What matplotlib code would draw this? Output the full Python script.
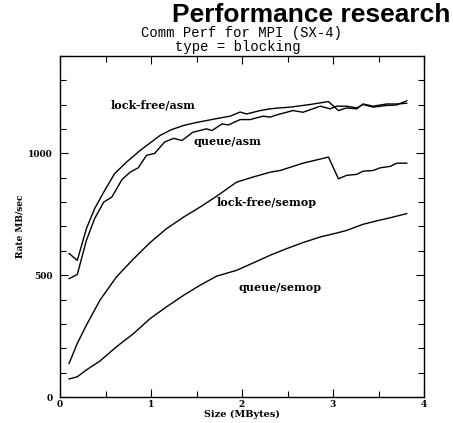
import matplotlib.pyplot as plt
from matplotlib.ticker import MultipleLocator

# message size (MBytes) and rate (MB/sec) for each variant
lock_asm_x = [0.10, 0.19, 0.29, 0.38, 0.48, 0.60, 0.73, 0.88, 0.99, 1.10, 1.22, 1.36,
              1.50, 1.61, 1.75, 1.87, 1.98, 2.05, 2.20, 2.31, 2.38, 2.53, 2.75, 2.95,
              3.06, 3.15, 3.26, 3.33, 3.44, 3.59, 3.70, 3.81]
lock_asm_y = [589, 561, 691, 773, 841, 917, 964, 1012, 1043, 1074, 1097, 1115,
              1127, 1135, 1145, 1153, 1170, 1162, 1176, 1183, 1186, 1190, 1201, 1213,
              1176, 1187, 1183, 1203, 1194, 1203, 1203, 1206]

queue_asm_x = [0.10, 0.19, 0.29, 0.38, 0.48, 0.57, 0.68, 0.77, 0.86, 0.95, 1.04, 1.15,
               1.25, 1.34, 1.46, 1.61, 1.67, 1.78, 1.85, 1.98, 2.09, 2.23, 2.31, 2.38,
               2.56, 2.67, 2.86, 2.97, 3.04, 3.15, 3.26, 3.33, 3.44, 3.59, 3.70, 3.81]
queue_asm_y = [486, 503, 643, 732, 800, 821, 892, 923, 941, 992, 1000, 1047,
               1062, 1053, 1087, 1101, 1094, 1121, 1117, 1139, 1139, 1153, 1149, 1158,
               1176, 1169, 1194, 1183, 1194, 1194, 1187, 1201, 1190, 1197, 1199, 1216]

lock_semop_x = [0.10, 0.19, 0.29, 0.44, 0.62, 0.81, 0.99, 1.17, 1.36, 1.54, 1.72, 1.94,
                2.12, 2.31, 2.42, 2.67, 2.95, 3.06, 3.15, 3.26, 3.33, 3.44, 3.52, 3.63,
                3.70, 3.81]
lock_semop_y = [138, 220, 295, 398, 493, 568, 634, 691, 739, 780, 824, 882,
                903, 923, 930, 960, 985, 896, 910, 914, 927, 930, 941, 947,
                960, 960]

queue_semop_x = [0.10, 0.19, 0.29, 0.44, 0.62, 0.81, 0.99, 1.17, 1.36, 1.54, 1.72, 1.94,
                 2.12, 2.31, 2.49, 2.67, 2.86, 3.06, 3.15, 3.33, 3.48, 3.63, 3.81]
queue_semop_y = [74, 83, 111, 148, 206, 261, 322, 370, 418, 459, 496, 520,
                 550, 582, 609, 634, 657, 675, 684, 709, 723, 736, 753]

series = [
    (lock_asm_x, lock_asm_y, "lock-free/asm", 1.02, 1197),
    (queue_asm_x, queue_asm_y, "queue/asm", 1.84, 1049),
    (lock_semop_x, lock_semop_y, "lock-free/semop", 2.27, 800),
    (queue_semop_x, queue_semop_y, "queue/semop", 2.42, 450),
]

serif = dict(family="DejaVu Serif", fontweight="bold")

fig = plt.figure(figsize=(4.53, 4.23), dpi=100)
ax = fig.add_axes([60 / 453, 1 - 397 / 423, 364 / 453, 341 / 423])

for xs, ys, name, lx, ly in series:
    ax.plot(xs, ys, color="black", linewidth=1.0)
    ax.text(lx, ly, name, ha="center", va="center", fontsize=8, **serif)

ax.set_xlim(0, 4)
ax.set_ylim(0, 1400)
ax.xaxis.set_major_locator(MultipleLocator(1))
ax.xaxis.set_minor_locator(MultipleLocator(0.5))
ax.yaxis.set_major_locator(MultipleLocator(500))
ax.yaxis.set_minor_locator(MultipleLocator(100))
ax.tick_params(which="both", direction="in", top=True, right=True, width=0.8)
ax.tick_params(which="major", length=6)
ax.tick_params(which="minor", length=4)
ax.tick_params(axis="y", pad=5)
ax.tick_params(axis="x", pad=2)
for lab in ax.get_xticklabels() + ax.get_yticklabels():
    lab.set_family("DejaVu Serif")
    lab.set_fontweight("bold")
    lab.set_fontsize(6.5)
for sp in ax.spines.values():
    sp.set_linewidth(1.0)

ax.set_xlabel("Size (MBytes)", fontsize=7, labelpad=1, **serif)
ax.set_ylabel("Rate MB/sec", fontsize=6.5, labelpad=3, **serif)

fig.text(242 / 453, 1 - 33 / 423, "Comm Perf for MPI (SX-4)", ha="center",
         va="center", fontsize=10, family="Liberation Mono")
fig.text(238 / 453, 1 - 47 / 423, "type = blocking", ha="center",
         va="center", fontsize=10, family="Liberation Mono")
fig.text(450 / 453, 1 - 15 / 423, "Performance research", ha="right",
         va="center", fontsize=19, family="Liberation Sans", fontweight="bold")

fig.savefig("out.png", dpi=100)
